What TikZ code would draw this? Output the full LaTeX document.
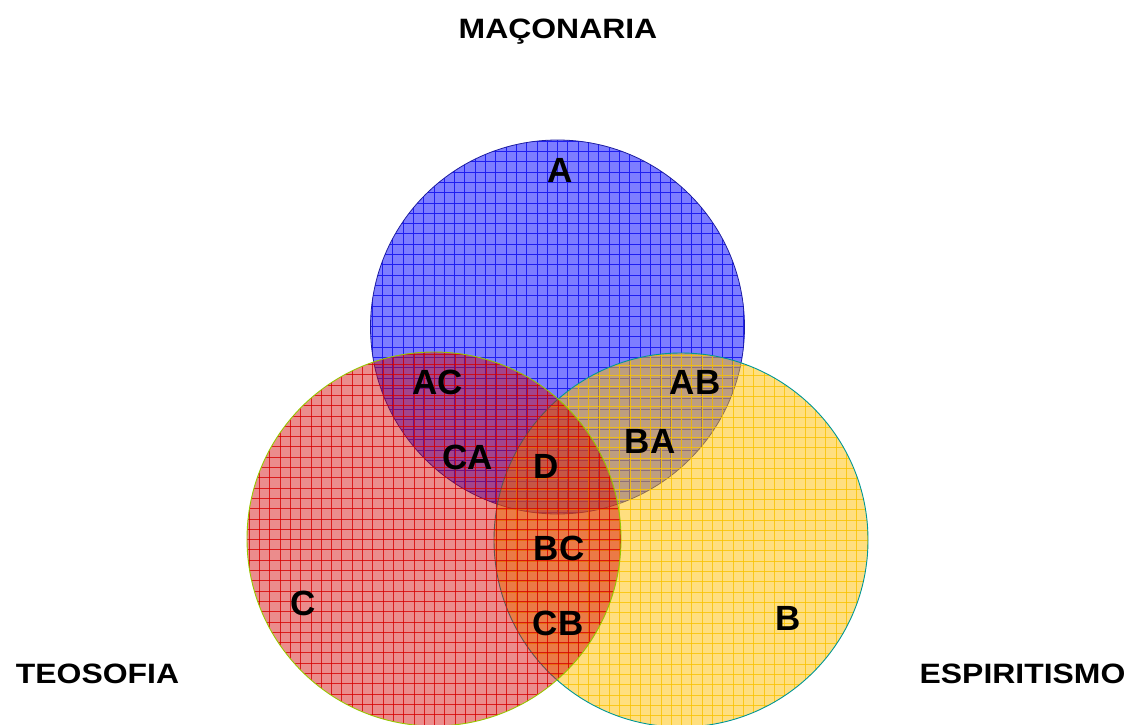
\documentclass[tikz,border=0pt]{standalone}
\usepackage{fontspec}
\setmainfont{Liberation Sans}
\usetikzlibrary{calc}
\definecolor{bluefill}{RGB}{125,125,255}
\definecolor{bluegrid}{RGB}{30,30,240}
\definecolor{blueline}{RGB}{30,30,160}
\definecolor{yellowfill}{RGB}{255,192,0}
\definecolor{yellowgrid}{RGB}{250,195,0}
\definecolor{tealline}{RGB}{0,150,150}
\definecolor{redfill}{RGB}{211,0,0}
\definecolor{redgrid}{RGB}{215,0,0}
\definecolor{greenline}{RGB}{150,200,0}
\begin{document}
\begin{tikzpicture}[x=1pt,y=-1pt,
  lbl/.style={font=\fontsize{35}{40}\selectfont\bfseries, inner sep=0pt, anchor=base},
  ttl/.style={font=\fontsize{28}{32}\selectfont\bfseries, inner sep=0pt, anchor=base, xscale=1.14},
  gridline/.style={line width=0.6pt}]
\useasboundingbox (0,0) rectangle (1130,725);
\coordinate (cA) at (557.5,327);
\coordinate (cB) at (681,540);
\coordinate (cC) at (434,539);
% blue circle (Maconaria)
\fill[bluefill] (cA) circle (187);
\begin{scope}
  \clip (cA) circle (187);
  \foreach \x in {372,382.3,...,746} \draw[bluegrid,gridline] (\x,138) -- (\x,516);
  \foreach \y in {141,151.3,...,516} \draw[bluegrid,gridline] (368,\y) -- (747,\y);
\end{scope}
\draw[blueline, line width=0.8pt] (cA) circle (187);
% yellow circle (Espiritismo)
\fill[yellowfill, fill opacity=0.5] (cB) circle (187);
\begin{scope}
  \clip (cB) circle (187);
  \foreach \x in {496,506.3,...,869} \draw[yellowgrid,gridline,draw opacity=0.8] (\x,351) -- (\x,729);
  \foreach \y in {355,365.3,...,729} \draw[yellowgrid,gridline,draw opacity=0.8] (492,\y) -- (870,\y);
\end{scope}
\draw[tealline, line width=0.9pt] (cB) circle (187);
% red circle (Teosofia)
\fill[redfill, fill opacity=0.45] (cC) circle (187);
\begin{scope}
  \clip (cC) circle (187);
  \foreach \x in {249,259.3,...,623} \draw[redgrid,gridline,draw opacity=0.8] (\x,350) -- (\x,728);
  \foreach \y in {354,364.3,...,728} \draw[redgrid,gridline,draw opacity=0.8] (245,\y) -- (623,\y);
\end{scope}
\draw[greenline, line width=0.9pt] (cC) circle (187);
% titles
\node[ttl] (tM) at (558,38.3) {MAÇONARIA};
\node[ttl] (tT) at (97.5,683) {TEOSOFIA};
\node[ttl] (tE) at (1022.5,683) {ESPIRITISMO};
% region labels
\node[lbl] (lA) at (560,182.5) {A};
\node[lbl] (lAC) at (438,394.5) {AC};
\node[lbl] (lAB) at (695,394.5) {AB};
\node[lbl] (lCA) at (468,469.5) {CA};
\node[lbl] (lBA) at (650,453.5) {BA};
\node[lbl] (lD) at (546,478.5) {D};
\node[lbl] (lBC) at (559,560.5) {BC};
\node[lbl] (lCB) at (558,635.5) {CB};
\node[lbl] (lC) at (303,615.5) {C};
\node[lbl] (lB) at (788,630.5) {B};
\end{tikzpicture}
\end{document}
